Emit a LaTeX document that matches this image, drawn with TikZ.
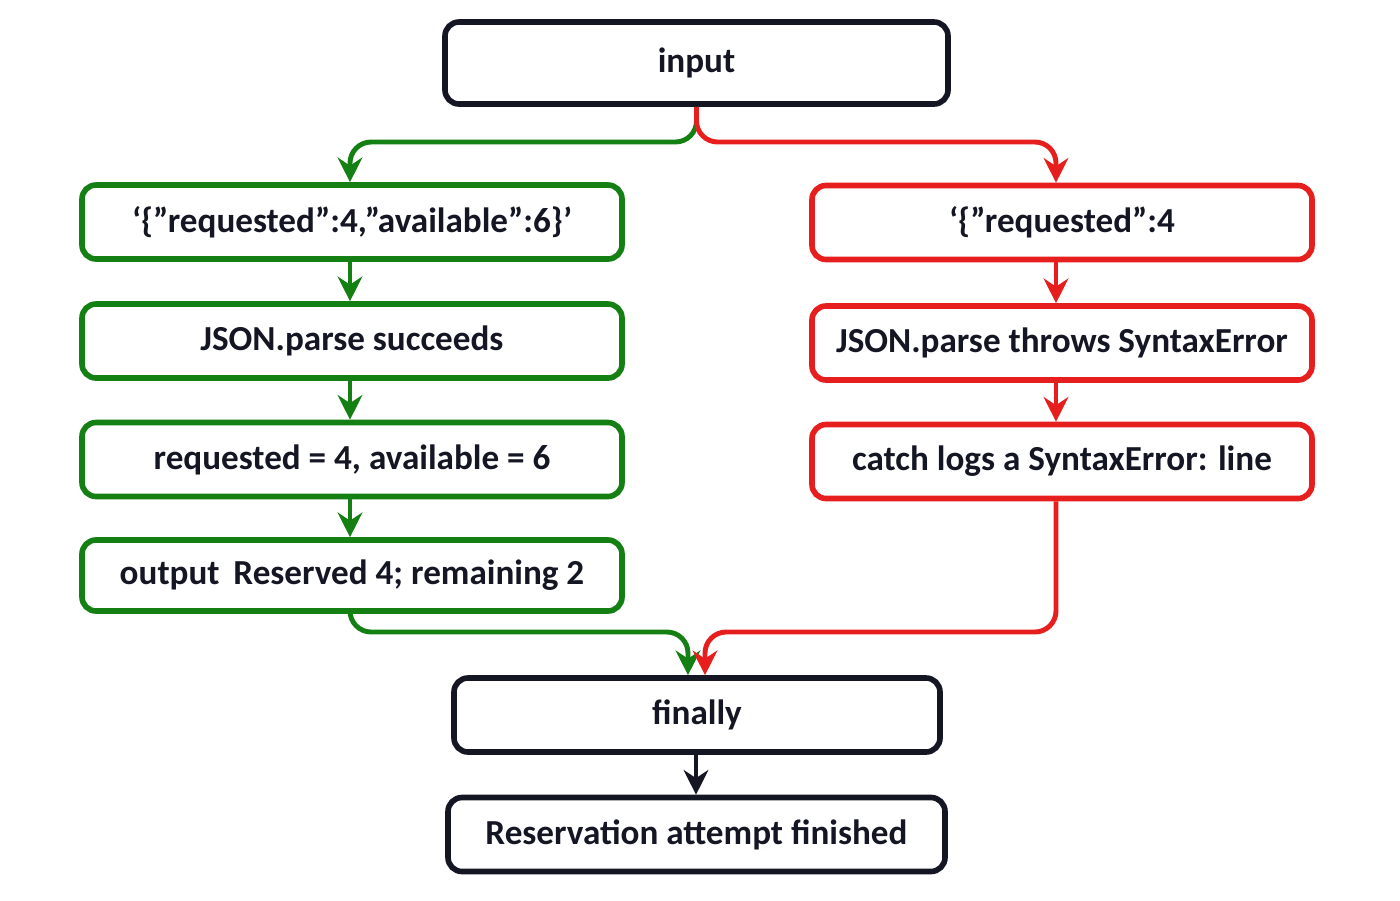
\documentclass[tikz,border=0pt]{standalone}
\usepackage{fontspec}
\setmainfont{Carlito}
\usetikzlibrary{arrows.meta}
\definecolor{gr}{RGB}{20,128,20}
\definecolor{rd}{RGB}{230,30,30}
\definecolor{bk}{RGB}{20,22,35}
\newcommand{\dq}{\symbol{34}}
\tikzset{
 box/.style={draw, line width=1.6pt, rounded corners=4pt, minimum height=0.74cm, inner xsep=1pt, font=\bfseries\fontsize{10}{12}\selectfont, text=bk},
 gbox/.style={box, draw=gr, minimum width=5.4cm},
 rbox/.style={box, draw=rd, minimum width=5cm},
 kbox/.style={box, draw=bk},
 arr/.style={line width=1.4pt, rounded corners=6pt, -{Stealth[length=7pt,width=7pt]}},
}
\begin{document}
\begin{tikzpicture}
\useasboundingbox (0,0) rectangle (14,-9);
\node[kbox, minimum width=5.03cm, minimum height=0.82cm] (in) at (6.965,-0.63) {input};
\node[gbox] (l1) at (3.52,-2.22) {‘\{\dq requested\dq:4,\dq available\dq:6\}’};
\node[gbox] (l2) at (3.52,-3.41) {JSON.parse succeeds};
\node[gbox] (l3) at (3.52,-4.595) {requested = 4, available = 6};
\node[gbox, minimum height=0.71cm] (l4) at (3.52,-5.755) {output\, Reserved 4; remaining 2};
\node[rbox] (r1) at (10.62,-2.225) {‘\{\dq requested\dq:4};
\node[rbox] (r2) at (10.62,-3.43) {JSON.parse throws SyntaxError};
\node[rbox] (r3) at (10.62,-4.615) {catch logs a SyntaxError: line};
\node[kbox, minimum width=4.86cm] (fi) at (6.97,-7.15) {finally};
\node[kbox, minimum width=4.97cm] (re) at (6.965,-8.345) {Reservation attempt finished};
\draw[arr, gr] (in.south) |- (3.5,-1.42) -- (l1.north -| 3.5,0);
\draw[arr, rd] (in.south) |- (10.56,-1.42) -- (r1.north -| 10.56,0);
\draw[arr, gr] (l1.south -| 3.5,0) -- (l2.north -| 3.5,0);
\draw[arr, gr] (l2.south -| 3.5,0) -- (l3.north -| 3.5,0);
\draw[arr, gr] (l3.south -| 3.5,0) -- (l4.north -| 3.5,0);
\draw[arr, rd] (r1.south -| 10.56,0) -- (r2.north -| 10.56,0);
\draw[arr, rd] (r2.south -| 10.56,0) -- (r3.north -| 10.56,0);
\draw[arr, gr] (l4.south -| 3.5,0) |- (6.88,-6.32) -- (fi.north -| 6.88,0);
\draw[arr, rd] (r3.south -| 10.56,0) |- (7.05,-6.32) -- (fi.north -| 7.05,0);
\draw[arr, bk] (fi.south -| 6.96,0) -- (re.north -| 6.96,0);
\end{tikzpicture}
\end{document}
